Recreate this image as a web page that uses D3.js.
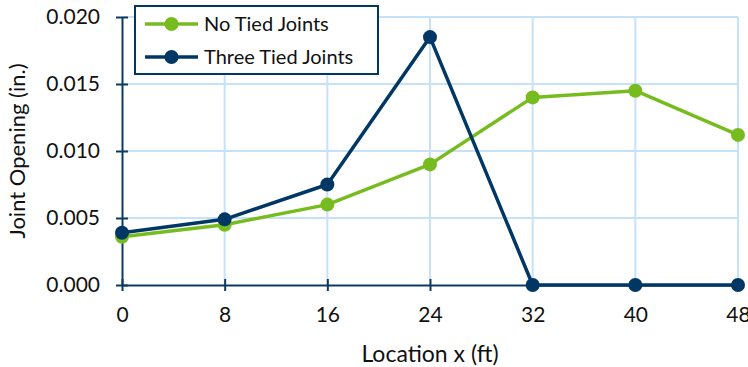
<!DOCTYPE html>
<html>
<head>
<meta charset="utf-8">
<script src="https://cdn.jsdelivr.net/npm/d3@7"></script>
<style>
  html, body { margin: 0; padding: 0; background: #fff; }
  svg text { font-family: Lato, "Open Sans", sans-serif; fill: #111; }
</style>
</head>
<body>
<svg id="chart" width="748" height="367"></svg>
<script>
// Joint opening along the culvert, by location
const locations = [0, 8, 16, 24, 32, 40, 48];
const noTiedJoints = [0.0036, 0.0045, 0.0060, 0.0090, 0.0140, 0.0145, 0.0112];
const threeTiedJoints = [0.0039, 0.0049, 0.0075, 0.0185, 0.0, 0.0, 0.0];
const seriesNames = ["No Tied Joints", "Three Tied Joints"];
const yTicks = [0, 0.005, 0.010, 0.015, 0.020];

const svg = d3.select("#chart");
const margin = { left: 122, right: 10, top: 17, bottom: 82 };
const W = 748, H = 367;

const x = d3.scaleLinear().domain([0, 48]).range([margin.left, W - margin.right]);
const y = d3.scaleLinear().domain([0, 0.020]).range([H - margin.bottom, margin.top]);

const gridColor = "#c6e2fb";
const axisColor = "#0e3a62";
const green = "#77bc1f";
const navy = "#003764";

// grid
svg.append("g").selectAll("line").data(yTicks.slice(1)).join("line")
  .attr("x1", x(0)).attr("x2", x(48))
  .attr("y1", d => y(d)).attr("y2", d => y(d))
  .attr("stroke", gridColor).attr("stroke-width", 2);
svg.append("g").selectAll("line").data(locations.slice(1)).join("line")
  .attr("x1", d => x(d)).attr("x2", d => x(d))
  .attr("y1", y(0)).attr("y2", y(0.020))
  .attr("stroke", gridColor).attr("stroke-width", 2);

// axes
const xAxis = d3.axisBottom(x).tickValues(locations).tickFormat(d3.format("d")).tickSizeInner(6).tickSizeOuter(0).tickPadding(16);
const yAxis = d3.axisLeft(y).tickValues(yTicks).tickFormat(d3.format(".3f")).tickSizeInner(6).tickSizeOuter(0).tickPadding(16);

const gx = svg.append("g").attr("transform", `translate(0,${y(0)})`).call(xAxis);
const gy = svg.append("g").attr("transform", `translate(${x(0)},0)`).call(yAxis);

[gx, gy].forEach(g => {
  g.select(".domain").attr("stroke", axisColor).attr("stroke-width", 2);
  g.selectAll(".tick line").attr("stroke", axisColor).attr("stroke-width", 2);
  g.selectAll(".tick text").attr("font-size", 21).attr("fill", "#111")
    .style("font-family", "Lato, 'Open Sans', sans-serif");
});
// ticks cross the axis line
gx.selectAll(".tick line").attr("y1", -6).attr("y2", 6);
gy.selectAll(".tick line").attr("x1", -6).attr("x2", 6);

// axis titles
svg.append("text").attr("x", (x(0) + x(48)) / 2).attr("y", 362)
  .attr("text-anchor", "middle").attr("font-size", 23).text("Location x (ft)");
svg.append("text").attr("transform", `translate(25,${(y(0) + y(0.020)) / 2}) rotate(-90)`)
  .attr("text-anchor", "middle").attr("font-size", 22).text("Joint Opening (in.)");

// series
const series = [
  { name: seriesNames[0], values: noTiedJoints, color: green },
  { name: seriesNames[1], values: threeTiedJoints, color: navy }
];
const line = d3.line().x((d, i) => x(locations[i])).y(d => y(d));

series.forEach(s => {
  svg.append("path").datum(s.values)
    .attr("d", line).attr("fill", "none")
    .attr("stroke", s.color).attr("stroke-width", 3.5).attr("stroke-linejoin", "round");
  svg.append("g").selectAll("circle").data(s.values).join("circle")
    .attr("cx", (d, i) => x(locations[i])).attr("cy", d => y(d))
    .attr("r", 7).attr("fill", s.color);
});

// legend
const lg = svg.append("g").attr("transform", "translate(135,6)");
lg.append("rect").attr("x", 0).attr("y", 0).attr("width", 243).attr("height", 68)
  .attr("fill", "#fff").attr("stroke", navy).attr("stroke-width", 2);
series.forEach((s, i) => {
  const cy = 18 + i * 33;
  lg.append("line").attr("x1", 10).attr("x2", 63).attr("y1", cy).attr("y2", cy)
    .attr("stroke", s.color).attr("stroke-width", 3.5);
  lg.append("circle").attr("cx", 36.5).attr("cy", cy).attr("r", 7).attr("fill", s.color);
  lg.append("text").attr("x", 69).attr("y", cy).attr("dy", "0.35em")
    .attr("font-size", 20).text(s.name);
});
</script>
</body>
</html>
